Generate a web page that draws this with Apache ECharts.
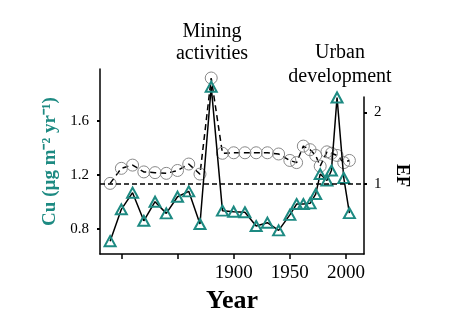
<!DOCTYPE html>
<html>
<head>
<meta charset="utf-8">
<script src="https://cdn.jsdelivr.net/npm/echarts@6/dist/echarts.min.js"></script>
<style>
  html, body { margin: 0; padding: 0; background: #fff; }
  #chart { width: 450px; height: 322px; }
</style>
</head>
<body>
<div id="chart"></div>
<script>
// sample years (triangles and circles share them)
var years = [1790, 1800, 1810, 1820, 1830, 1840, 1850, 1860, 1870, 1880,
             1890, 1900, 1910, 1920, 1930, 1940, 1950, 1956, 1962, 1968,
             1973, 1977, 1983, 1987, 1992, 1998, 2003];
// Cu flux, left axis
var cuFlux = [0.71, 0.946, 1.069, 0.861, 1.002, 0.916, 1.039, 1.079, 0.837, 1.854,
              0.936, 0.928, 0.924, 0.822, 0.847, 0.79, 0.905, 0.985, 0.985, 0.99,
              1.059, 1.207, 1.159, 1.233, 1.774, 1.178, 0.918];
// enrichment factor, right axis
var ef = [1.01, 1.22, 1.265, 1.17, 1.16, 1.15, 1.19, 1.28, 1.14, 2.48,
          1.43, 1.437, 1.437, 1.437, 1.437, 1.42, 1.33, 1.30, 1.53, 1.48,
          1.40, 1.25, 1.45, 1.43, 1.40, 1.30, 1.33];

var xTicks = [1800, 1850, 1900, 1950, 2000];
var xLabels = [1900, 1950, 2000];
var cuTicks = [0.8, 1.2, 1.6];
var efTicks = [1, 2];

var teal = '#1d8a82';
var serif = 'Liberation Serif';

var dom = document.getElementById('chart');
var chart = echarts.init(dom);

function pairs(xs, ys) {
    return xs.map(function (x, i) { return [x, ys[i]]; });
}

var option = {
    animation: false,
    grid: [
        { left: 100, right: 86, top: 69, bottom: 68 },
        { left: 100, right: 86, top: 97, bottom: 68 }
    ],
    xAxis: [
        {
            type: 'value', gridIndex: 0, min: 1781, max: 2016,
            name: 'Year', nameLocation: 'middle', nameGap: 33,
            nameTextStyle: { fontFamily: serif, fontSize: 26, fontWeight: 'bold', color: '#000' },
            axisLine: { show: true, lineStyle: { color: '#000', width: 1.5 } },
            axisTick: { show: true, length: 5, customValues: xTicks, lineStyle: { color: '#000', width: 1.5 } },
            axisLabel: { customValues: xLabels, fontFamily: serif, fontSize: 19, color: '#000', margin: 10,
                formatter: function (v) { return String(v); } },
            splitLine: { show: false }
        },
        {
            type: 'value', gridIndex: 1, min: 1781, max: 2016, show: false
        }
    ],
    yAxis: [
        {
            type: 'value', gridIndex: 0, position: 'left', min: 0.615, max: 1.985,
            name: 'Cu (\u00b5g m\u207b\u00b2 yr\u207b\u00b9)', nameLocation: 'middle', nameGap: 29,
            nameTextStyle: { fontFamily: serif, fontSize: 19, fontWeight: 'bold', color: teal },
            axisLine: { show: true, lineStyle: { color: '#000', width: 1.5 } },
            axisTick: { show: true, length: 3, customValues: cuTicks, lineStyle: { color: '#000', width: 2 } },
            axisLabel: { customValues: cuTicks, fontFamily: serif, fontSize: 15, color: '#000', margin: 11,
                formatter: function (v) { return v.toFixed(1); } },
            splitLine: { show: false }
        },
        {
            type: 'value', gridIndex: 1, position: 'right', min: 0.025, max: 2.215,
            name: 'EF', nameLocation: 'middle', nameGap: 25, nameRotate: -90,
            nameTextStyle: { fontFamily: serif, fontSize: 18, fontWeight: 'bold', color: '#000' },
            axisLine: { show: true, lineStyle: { color: '#000', width: 1.5 } },
            axisTick: { show: true, length: 3, customValues: efTicks, lineStyle: { color: '#000', width: 2 } },
            axisLabel: { customValues: efTicks, fontFamily: serif, fontSize: 15, color: '#000', margin: 10 },
            splitLine: { show: false }
        }
    ],
    graphic: [
        { type: 'text', x: 212, y: 21, style: { text: 'Mining\nactivities', fontFamily: serif, fontSize: 20, lineHeight: 22, fill: '#000', align: 'center' } },
        { type: 'text', x: 340, y: 41, style: { text: 'Urban\ndevelopment', fontFamily: serif, fontSize: 20, lineHeight: 24, fill: '#000', align: 'center' } }
    ],
    series: [
        {
            name: 'EF', type: 'line', xAxisIndex: 1, yAxisIndex: 1,
            data: pairs(years, ef), clip: false, z: 2,
            symbol: 'circle', symbolSize: 12,
            lineStyle: { color: '#000', width: 1.5, type: [6, 4] },
            itemStyle: { color: 'rgba(255,255,255,0)', borderColor: '#888', borderWidth: 1 },
            markLine: {
                silent: true, symbol: 'none', label: { show: false },
                lineStyle: { color: '#000', width: 1.5, type: [5, 3] },
                data: [{ yAxis: 1 }]
            }
        },
        {
            name: 'Cu', type: 'line', xAxisIndex: 0, yAxisIndex: 0,
            data: pairs(years, cuFlux), clip: false, z: 3,
            symbol: 'triangle', symbolSize: [11, 10],
            lineStyle: { color: '#000', width: 1.5 },
            itemStyle: { color: 'rgba(255,255,255,0)', borderColor: teal, borderWidth: 2 }
        }
    ]
};

chart.setOption(option);
</script>
</body>
</html>
